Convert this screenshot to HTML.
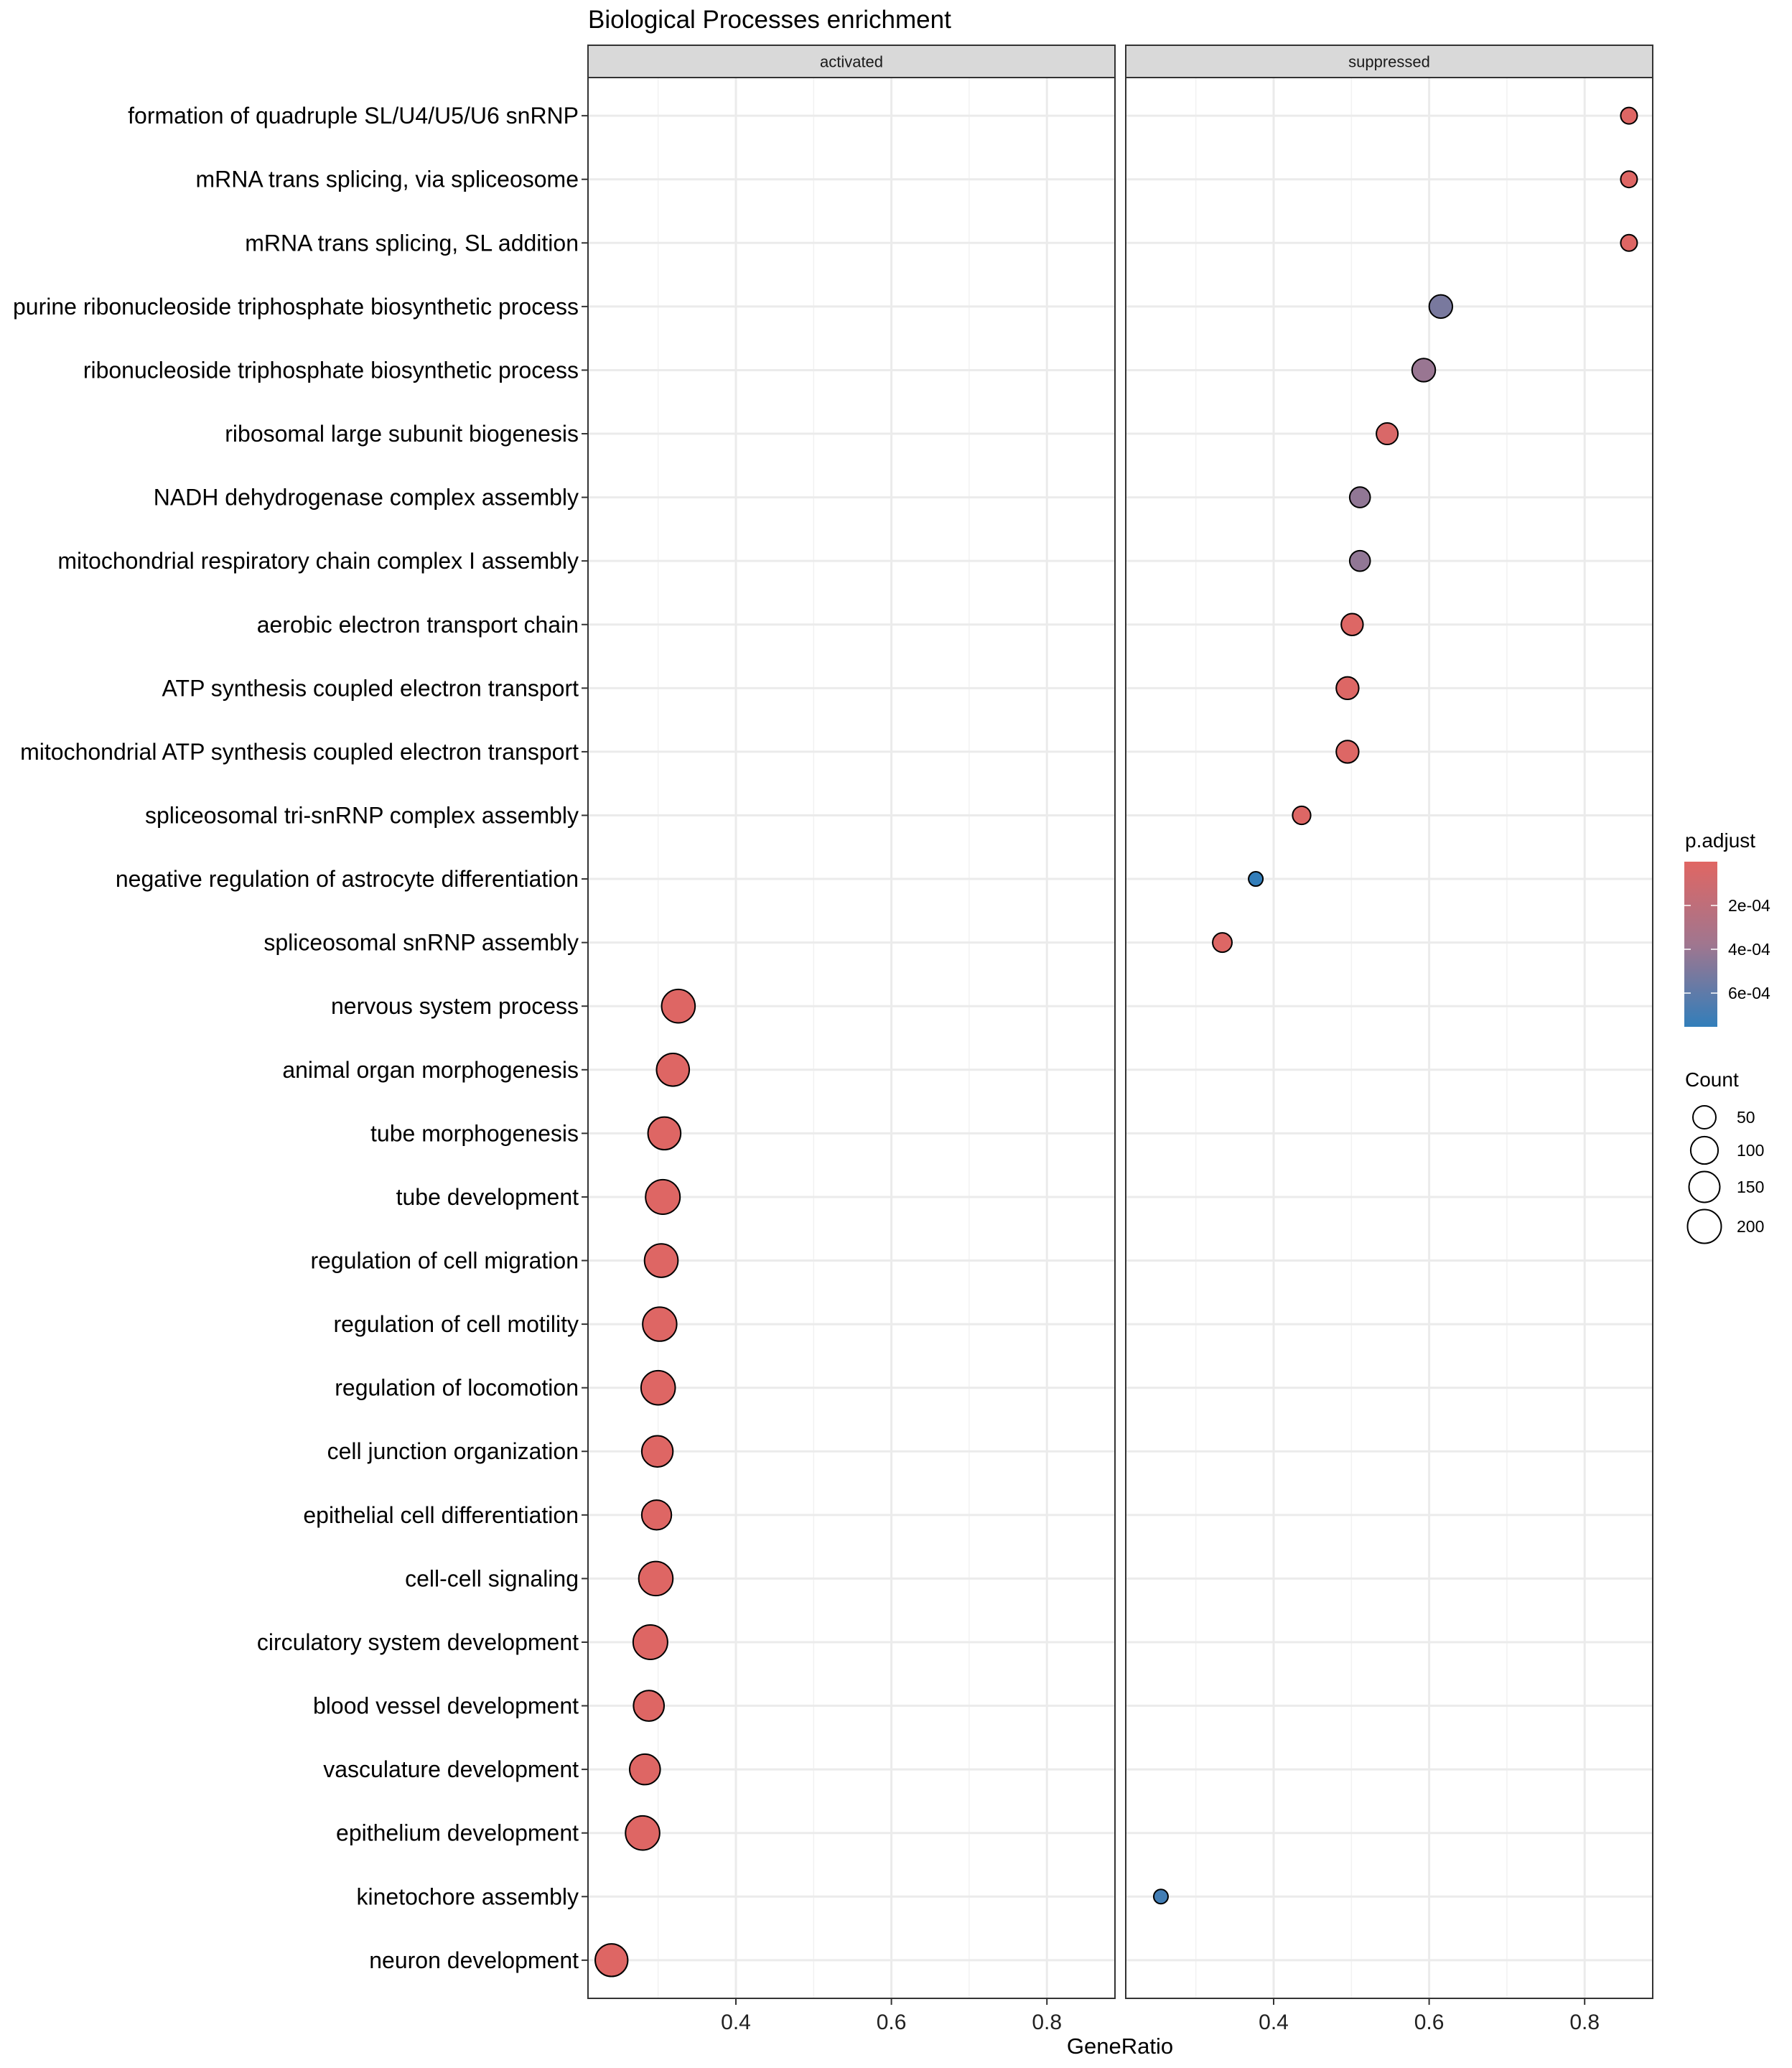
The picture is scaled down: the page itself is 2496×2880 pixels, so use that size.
<!DOCTYPE html>
<html><head><meta charset="utf-8"><style>
html,body{margin:0;padding:0;background:#fff;}
svg{display:block;font-family:"Liberation Sans",Arial,sans-serif;}
</style></head><body>
<svg id="chart" width="2496" height="2880" viewBox="0 0 2496 2880" xmlns="http://www.w3.org/2000/svg">
<rect width="2496" height="2880" fill="#fff"/>
<text x="819" y="39" font-size="35" fill="#000">Biological Processes enrichment</text>
<g id="panels"></g>
<text x="1560" y="2860" font-size="31" text-anchor="middle">GeneRatio</text>
<g>
<text x="2347" y="1180" font-size="28">p.adjust</text>
<defs><linearGradient id="cb" x1="0" y1="0" x2="0" y2="1"><stop offset="0" stop-color="#E06663"/><stop offset="0.5" stop-color="#A0768F"/><stop offset="1" stop-color="#327EBA"/></linearGradient></defs>
<rect x="2346" y="1200" width="46" height="230" fill="url(#cb)"/>
<g id="cbticks"></g>
</g>
<g>
<text x="2347" y="1513" font-size="28">Count</text>
<g id="sizelegend"></g>
</g>
</svg>
<script>
const terms = ["formation of quadruple SL/U4/U5/U6 snRNP","mRNA trans splicing, via spliceosome","mRNA trans splicing, SL addition","purine ribonucleoside triphosphate biosynthetic process","ribonucleoside triphosphate biosynthetic process","ribosomal large subunit biogenesis","NADH dehydrogenase complex assembly","mitochondrial respiratory chain complex I assembly","aerobic electron transport chain","ATP synthesis coupled electron transport","mitochondrial ATP synthesis coupled electron transport","spliceosomal tri-snRNP complex assembly","negative regulation of astrocyte differentiation","spliceosomal snRNP assembly","nervous system process","animal organ morphogenesis","tube morphogenesis","tube development","regulation of cell migration","regulation of cell motility","regulation of locomotion","cell junction organization","epithelial cell differentiation","cell-cell signaling","circulatory system development","blood vessel development","vasculature development","epithelium development","kinetochore assembly","neuron development"];
const actTerms = [14,15,16,17,18,19,20,21,22,23,24,25,26,27,29];
const actRatio = [0.326,0.319,0.308,0.306,0.304,0.302,0.300,0.299,0.298,0.297,0.290,0.288,0.283,0.280,0.240];
const actCount = [195,182,182,214,195,206,208,155,132,208,214,146,146,208,179];
const actP = [0.00001,0.00001,0.00001,0.00001,0.00001,0.00001,0.00001,0.00001,0.00001,0.00001,0.00001,0.00001,0.00001,0.00001,0.00001];
const supTerms = [0,1,2,3,4,5,6,7,8,9,10,11,12,13,28];
const supRatio = [0.857,0.857,0.857,0.615,0.593,0.546,0.511,0.511,0.501,0.495,0.495,0.436,0.377,0.334,0.255];
const supCount = [8,8,8,53,53,38,30,30,40,46,46,15,2,22,2];
const supP = [0.00001,0.00001,0.00001,0.00051,0.00040,0.00004,0.00043,0.00043,0.00002,0.00002,0.00002,0.00002,0.00075,0.00002,0.00070];
const xTicks = [0.4,0.6,0.8];
const xMinor = [0.3,0.5,0.7];
const pTicks = [0.0002,0.0004,0.0006];
const pTickLabels = ["2e-04","4e-04","6e-04"];
const sizeBreaks = [50,100,150,200];

const NS="http://www.w3.org/2000/svg";
function mk(tag,attrs,parent){const e=document.createElementNS(NS,tag);for(const k in attrs)e.setAttribute(k,attrs[k]);parent.appendChild(e);return e;}
const panelTop=108, panelBot=2783, stripTop=63;
const rowH=(panelBot-panelTop)/30.2;
function yPos(i){return panelTop+(0.6+i)*rowH;}
function xScale(v,left){return left+206+(v-0.4)*1083;}
function rScale(c){return 8.5+1.06*Math.sqrt(c);}
const pMax=0.000754;
function lerp(a,b,t){return Math.round(a+(b-a)*t);}
function pColor(p){const t=Math.max(0,Math.min(1,p/pMax));
 const c1=[224,102,99],c2=[160,118,143],c3=[50,126,186];
 let a,b,u; if(t<0.5){a=c1;b=c2;u=t*2;}else{a=c2;b=c3;u=(t-0.5)*2;}
 return `rgb(${lerp(a[0],b[0],u)},${lerp(a[1],b[1],u)},${lerp(a[2],b[2],u)})`;}
const panelsG=document.getElementById('panels');
const panels=[{left:819,right:1553,name:"activated",ti:actTerms,r:actRatio,c:actCount,p:actP},
              {left:1568,right:2302,name:"suppressed",ti:supTerms,r:supRatio,c:supCount,p:supP}];
panels.forEach((P,pi)=>{
 const g=mk('g',{},panelsG);
 
 
 const strip=mk('rect',{x:P.left,y:stripTop,width:P.right-P.left,height:panelTop-stripTop,fill:'#D9D9D9',stroke:'#333','stroke-width':2},g);
 
 
 const st=mk('text',{x:(P.left+P.right)/2,y:(stripTop+panelTop)/2+8,'font-size':22,'text-anchor':'middle',fill:'#1a1a1a'},g);
 st.textContent=P.name;
 
 
 xMinor.forEach(v=>{const l=mk('line',{x1:xScale(v,P.left),x2:xScale(v,P.left),y1:panelTop,y2:panelBot,stroke:'#F2F2F2','stroke-width':1.5},g);
  });
 xTicks.forEach(v=>{const l=mk('line',{x1:xScale(v,P.left),x2:xScale(v,P.left),y1:panelTop,y2:panelBot,stroke:'#EBEBEB','stroke-width':3},g);
  });
 terms.forEach((t,i)=>{const l=mk('line',{x1:P.left,x2:P.right,y1:yPos(i),y2:yPos(i),stroke:'#EBEBEB','stroke-width':3},g);
  });
 P.ti.forEach((ti,k)=>{
  const c=mk('circle',{cx:xScale(P.r[k],P.left),cy:yPos(ti),r:rScale(P.c[k]),fill:pColor(P.p[k]),stroke:'#000','stroke-width':2},g);
  
  
 });
 const border=mk('rect',{x:P.left,y:panelTop,width:P.right-P.left,height:panelBot-panelTop,fill:'none',stroke:'#333','stroke-width':2},g);
 
 
 xTicks.forEach(v=>{const x=xScale(v,P.left);
  mk('line',{x1:x,x2:x,y1:panelBot,y2:panelBot+9,stroke:'#333','stroke-width':2},g);
  const tx=mk('text',{x:x,y:2826,'font-size':30,'text-anchor':'middle',fill:'#222'},g);
  tx.textContent=v.toFixed(1);
  
  });
});
terms.forEach((t,i)=>{
 mk('line',{x1:810,x2:819,y1:yPos(i),y2:yPos(i),stroke:'#333','stroke-width':2},panelsG);
 const tx=mk('text',{x:806,y:yPos(i)+11,'font-size':32,'text-anchor':'end',fill:'#000'},panelsG);
 tx.textContent=t;
 
 
});
const cbt=document.getElementById('cbticks');
pTicks.forEach((p,i)=>{const y=1200+230*p/pMax;
 mk('line',{x1:2346,x2:2355,y1:y,y2:y,stroke:'#fff','stroke-width':1.5},cbt);
 mk('line',{x1:2383,x2:2392,y1:y,y2:y,stroke:'#fff','stroke-width':1.5},cbt);
 const tx=mk('text',{x:2407,y:y+8,'font-size':23,fill:'#000'},cbt);
 tx.textContent=pTickLabels[i];
 
 });
const sl=document.getElementById('sizelegend');
const sy=[1556,1602,1653,1708];
sizeBreaks.forEach((c,i)=>{
 const ci=mk('circle',{cx:2374,cy:sy[i],r:rScale(c),fill:'none',stroke:'#000','stroke-width':2},sl);
 
 
 const tx=mk('text',{x:2419,y:sy[i]+8,'font-size':23,fill:'#000'},sl);
 tx.textContent=c;
 
 });
</script>
</body></html>
